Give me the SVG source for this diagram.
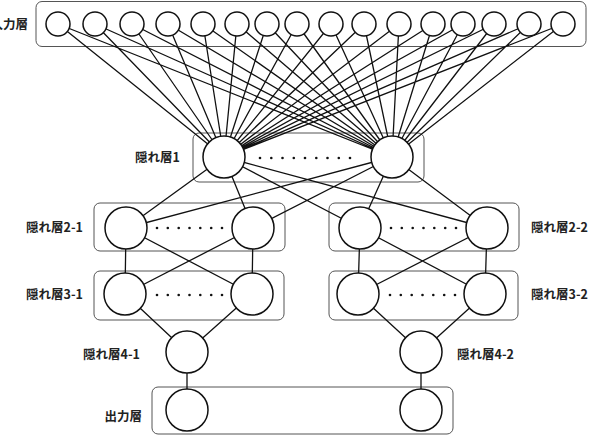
<svg xmlns="http://www.w3.org/2000/svg" width="596" height="443" viewBox="0 0 596 443">
<style>
.box{fill:none;stroke:#555;stroke-width:1}
.n{fill:#fff;stroke:#111;stroke-width:1.5}
.e{stroke:#111;stroke-width:1.3;fill:none}
.d{fill:#111}
.lbl{font-family:"Noto Sans CJK JP","Liberation Sans",sans-serif;font-size:12.5px;font-weight:bold;fill:#222}
</style>
<g id="boxes">
<rect class="box" x="36" y="1.5" width="550" height="45" rx="6"/>
<rect class="box" x="193" y="133" width="231" height="49" rx="6"/>
<rect class="box" x="94" y="203" width="191" height="48" rx="6"/>
<rect class="box" x="329" y="203" width="190" height="48" rx="6"/>
<rect class="box" x="94" y="271" width="190" height="49" rx="6"/>
<rect class="box" x="329" y="271" width="189" height="49" rx="6"/>
<rect class="box" x="152" y="387" width="301" height="47" rx="6"/>
</g>
<g id="connectors">
<path class="e" d="M58,24L224,157M58,24L392,157M95,24L224,157M95,24L392,157M132,24L224,157M132,24L392,157M168,24L224,157M168,24L392,157M203,24L224,157M203,24L392,157M237,24L224,157M237,24L392,157M267,24L224,157M267,24L392,157M297,24L224,157M297,24L392,157M331,24L224,157M331,24L392,157M364,24L224,157M364,24L392,157M399,24L224,157M399,24L392,157M433,24L224,157M433,24L392,157M463,24L224,157M463,24L392,157M494,24L224,157M494,24L392,157M529,24L224,157M529,24L392,157M563,24L224,157M563,24L392,157"/>
<path class="e" d="M224,157L126,228M224,157L253,228M224,157L360,228M224,157L487,228M392,157L126,228M392,157L253,228M392,157L360,228M392,157L487,228"/>
<path class="e" d="M126,228L125,294M126,228L252,294M253,228L125,294M253,228L252,294M360,228L358,294M360,228L485,294M487,228L358,294M487,228L485,294"/>
<path class="e" d="M125,294L187,352M252,294L187,352M358,294L421,352M485,294L421,352M187,352L187,410M421,352L421,410"/>
</g>
<g id="input-layer">
<circle class="n" cx="58" cy="24" r="12"/><circle class="n" cx="95" cy="24" r="12"/><circle class="n" cx="132" cy="24" r="12"/><circle class="n" cx="168" cy="24" r="12"/><circle class="n" cx="203" cy="24" r="12"/><circle class="n" cx="237" cy="24" r="12"/><circle class="n" cx="267" cy="24" r="12"/><circle class="n" cx="297" cy="24" r="12"/><circle class="n" cx="331" cy="24" r="12"/><circle class="n" cx="364" cy="24" r="12"/><circle class="n" cx="399" cy="24" r="12"/><circle class="n" cx="433" cy="24" r="12"/><circle class="n" cx="463" cy="24" r="12"/><circle class="n" cx="494" cy="24" r="12"/><circle class="n" cx="529" cy="24" r="12"/><circle class="n" cx="563" cy="24" r="12"/>
<text class="lbl" x="28" y="29" text-anchor="end">入力層</text>
</g>
<g id="hidden1">
<circle class="n" cx="224" cy="157" r="21"/><circle class="n" cx="392" cy="157" r="21"/>
<g class="d"><circle cx="260" cy="158" r="1.3"/><circle cx="271.3" cy="158" r="1.3"/><circle cx="282.5" cy="158" r="1.3"/><circle cx="293.8" cy="158" r="1.3"/><circle cx="305" cy="158" r="1.3"/><circle cx="316.3" cy="158" r="1.3"/><circle cx="327.5" cy="158" r="1.3"/><circle cx="338.8" cy="158" r="1.3"/><circle cx="350" cy="158" r="1.3"/></g>
<text class="lbl" x="180" y="162" text-anchor="end">隠れ層1</text>
</g>
<g id="hidden2-1">
<circle class="n" cx="126" cy="228" r="21"/><circle class="n" cx="253" cy="228" r="21"/>
<g class="d"><circle cx="157" cy="228" r="1.3"/><circle cx="167.8" cy="228" r="1.3"/><circle cx="178.7" cy="228" r="1.3"/><circle cx="189.5" cy="228" r="1.3"/><circle cx="200.3" cy="228" r="1.3"/><circle cx="211.2" cy="228" r="1.3"/><circle cx="222" cy="228" r="1.3"/></g>
<text class="lbl" x="83" y="232" text-anchor="end">隠れ層2-1</text>
</g>
<g id="hidden2-2">
<circle class="n" cx="360" cy="228" r="21"/><circle class="n" cx="487" cy="228" r="21"/>
<g class="d"><circle cx="391" cy="228" r="1.3"/><circle cx="401.8" cy="228" r="1.3"/><circle cx="412.7" cy="228" r="1.3"/><circle cx="423.5" cy="228" r="1.3"/><circle cx="434.3" cy="228" r="1.3"/><circle cx="445.2" cy="228" r="1.3"/><circle cx="456" cy="228" r="1.3"/></g>
<text class="lbl" x="531" y="232">隠れ層2-2</text>
</g>
<g id="hidden3-1">
<circle class="n" cx="125" cy="294" r="21"/><circle class="n" cx="252" cy="294" r="21"/>
<g class="d"><circle cx="157" cy="295" r="1.3"/><circle cx="167.8" cy="295" r="1.3"/><circle cx="178.7" cy="295" r="1.3"/><circle cx="189.5" cy="295" r="1.3"/><circle cx="200.3" cy="295" r="1.3"/><circle cx="211.2" cy="295" r="1.3"/><circle cx="222" cy="295" r="1.3"/></g>
<text class="lbl" x="83" y="299" text-anchor="end">隠れ層3-1</text>
</g>
<g id="hidden3-2">
<circle class="n" cx="358" cy="294" r="21"/><circle class="n" cx="485" cy="294" r="21"/>
<g class="d"><circle cx="390" cy="295" r="1.3"/><circle cx="400.8" cy="295" r="1.3"/><circle cx="411.7" cy="295" r="1.3"/><circle cx="422.5" cy="295" r="1.3"/><circle cx="433.3" cy="295" r="1.3"/><circle cx="444.2" cy="295" r="1.3"/><circle cx="455" cy="295" r="1.3"/></g>
<text class="lbl" x="531" y="299">隠れ層3-2</text>
</g>
<g id="hidden4-1">
<circle class="n" cx="187" cy="352" r="21"/>
<text class="lbl" x="140" y="359" text-anchor="end">隠れ層4-1</text>
</g>
<g id="hidden4-2">
<circle class="n" cx="421" cy="352" r="21"/>
<text class="lbl" x="457" y="359">隠れ層4-2</text>
</g>
<g id="output-layer">
<circle class="n" cx="187" cy="410" r="21"/><circle class="n" cx="421" cy="410" r="21"/>
<text class="lbl" x="142" y="421" text-anchor="end">出力層</text>
</g>
</svg>
